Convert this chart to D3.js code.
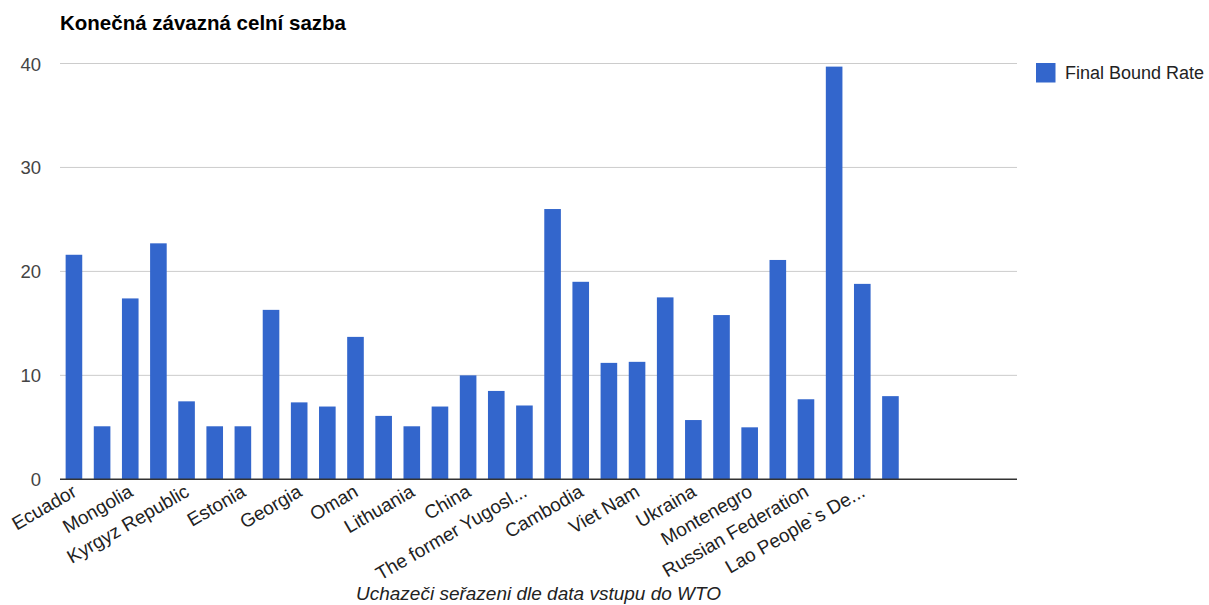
<!DOCTYPE html>
<html>
<head>
<meta charset="utf-8">
<script src="https://cdn.jsdelivr.net/npm/d3@7"></script>
<style>
  html, body { margin: 0; padding: 0; background: #fff; }
  svg { display: block; font-family: "Liberation Sans", Arial, sans-serif; }
</style>
</head>
<body>
<svg id="chart" width="1209" height="605"></svg>
<script>
// Applicants ordered by date of WTO accession
const countries = [
  "Ecuador", "Bulgaria", "Mongolia", "Panama", "Kyrgyz Republic", "Latvia",
  "Estonia", "Jordan", "Georgia", "Albania", "Oman", "Croatia",
  "Lithuania", "Moldova", "China", "Armenia", "The former Yugosl...", "Nepal",
  "Cambodia", "Saudi Arabia", "Viet Nam", "Tonga", "Ukraina", "Cape Verde",
  "Montenegro", "Samoa", "Russian Federation", "Vanuatu", "Lao People`s De...", "Tajikistan",
  "", "", "", ""
];
// Final bound rate (%)
const finalBoundRate = [
  21.6, 5.1, 17.4, 22.7, 7.5, 5.1,
  5.1, 16.3, 7.4, 7.0, 13.7, 6.1,
  5.1, 7.0, 10.0, 8.5, 7.1, 26.0,
  19.0, 11.2, 11.3, 17.5, 5.7, 15.8,
  5.0, 21.1, 7.7, 39.7, 18.8, 8.0,
  null, null, null, null
];
const yTicks = [0, 10, 20, 30, 40];
const seriesName = "Final Bound Rate";
const chartTitle = "Konečná závazná celní sazba";
const xAxisTitle = "Uchazeči seřazeni dle data vstupu do WTO";

const svg = d3.select("#chart");
const plot = { left: 60, right: 1017, top: 63.5, bottom: 479.3 };
const color = "#3366cc";

const idx = d3.range(countries.length);
const x = d3.scaleBand().domain(idx).range([plot.left, plot.right]).paddingInner(0.41).paddingOuter(0.2);
const y = d3.scaleLinear().domain([0, 40]).range([plot.bottom, plot.top]);

// gridlines
svg.append("g").selectAll("line").data(yTicks.filter(t => t > 0)).join("line")
  .attr("x1", plot.left).attr("x2", plot.right)
  .attr("y1", d => y(d)).attr("y2", d => y(d))
  .attr("stroke", "#cccccc").attr("stroke-width", 1);

// y tick labels
svg.append("g").selectAll("text").data(yTicks).join("text")
  .attr("x", 41).attr("y", d => y(d) + 7)
  .attr("text-anchor", "end")
  .attr("font-size", 18.5).attr("fill", "#444")
  .text(d => d);

// bars
svg.append("g").selectAll("rect")
  .data(idx.filter(i => finalBoundRate[i] != null))
  .join("rect")
  .attr("x", i => x(i))
  .attr("width", x.bandwidth())
  .attr("y", i => y(finalBoundRate[i]))
  .attr("height", i => y(0) - y(finalBoundRate[i]))
  .attr("fill", color);

// baseline
svg.append("line")
  .attr("x1", plot.left).attr("x2", plot.right)
  .attr("y1", y(0)).attr("y2", y(0))
  .attr("stroke", "#333").attr("stroke-width", 1.5);

// category labels, every other one, slanted
svg.append("g").selectAll("text")
  .data(idx.filter(i => i % 2 === 0 && countries[i]))
  .join("text")
  .attr("transform", i => `translate(${x(i) + x.bandwidth() / 2 + 4},${plot.bottom + 16}) rotate(-30)`)
  .attr("text-anchor", "end")
  .attr("font-size", 19).attr("fill", "#222")
  .text(i => countries[i]);

// title
svg.append("text")
  .attr("x", 60).attr("y", 29.5)
  .attr("font-size", 20.5).attr("font-weight", "bold").attr("fill", "#000")
  .text(chartTitle);

// axis title
svg.append("text")
  .attr("x", (plot.left + plot.right) / 2).attr("y", 599.5)
  .attr("text-anchor", "middle")
  .attr("font-size", 19).attr("font-style", "italic").attr("fill", "#222")
  .text(xAxisTitle);

// legend
const lg = svg.append("g").attr("transform", "translate(1036,63)");
lg.append("rect").attr("width", 19.5).attr("height", 19.5).attr("fill", color);
lg.append("text").attr("x", 29).attr("y", 16)
  .attr("font-size", 18).attr("fill", "#222").text(seriesName);
</script>
</body>
</html>
